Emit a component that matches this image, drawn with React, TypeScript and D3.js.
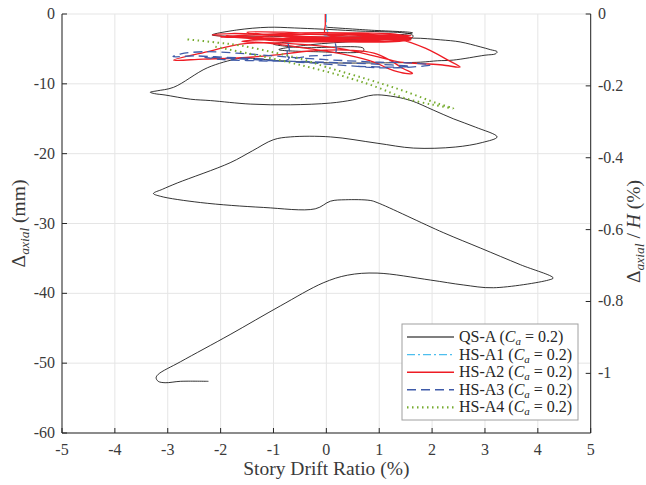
import React from "react";
import * as d3 from "d3";

// [drift %, axial mm]
const qsA: [number, number][] = [
  [0, -1.9], [0.8, -2.3], [1.63, -2.7], [1.2, -3.1], [0.3, -3.3], [-1.0, -3.2], [-2.16, -3.0], [-1.7, -2.3],
  [-1.1, -1.9], [-0.6, -2.0], [0.5, -2.4], [1.63, -3.0], [1.63, -3.35], [0.7, -3.6], [-0.3, -3.8], [-1.0, -4.3],
  [-0.5, -4.8], [0.7, -4.9], [0.7, -5.3], [-0.2, -5.4], [-0.9, -5.1], [-0.3, -4.4], [0.6, -3.9], [1.63, -3.45],
  [2.16, -3.7], [2.53, -4.0], [2.91, -4.7], [3.1, -5.1], [3.23, -5.4], [3.2, -5.7], [3.0, -5.9], [2.4, -6.6],
  [2.1, -6.7], [1.78, -6.9], [1.02, -7.0], [0.08, -7.0], [-0.87, -6.7], [-1.53, -6.3], [-1.68, -6.4], [-2.25, -7.7],
  [-2.89, -10.5], [-3.2, -11.0], [-3.33, -11.2],
  [-3.25, -11.4], [-3.05, -11.6], [-2.57, -12.2], [-2.19, -12.4], [-1.44, -12.9], [-0.68, -13.0], [0.08, -12.75],
  [0.5, -12.3], [0.89, -11.6], [1.21, -11.75], [1.6, -12.4], [2.02, -13.75], [2.4, -15.0], [2.82, -16.2], [3.23, -17.6],
  [2.95, -18.4], [2.44, -19.05], [1.65, -19.2], [0.96, -18.5], [0.08, -17.6], [-0.68, -17.6], [-1.0, -18.0],
  [-1.4, -19.6], [-1.82, -21.3], [-2.82, -24.2], [-3.1, -25.1], [-3.27, -25.7],
  [-3.14, -26.1], [-2.38, -27.0], [-1.19, -27.7], [-0.21, -27.9], [0.08, -26.8], [0.36, -26.6], [0.83, -26.7],
  [0.96, -27.0], [2.21, -31.3], [2.91, -33.5], [3.67, -35.9], [4.29, -37.8],
  [4.2, -38.1], [3.16, -39.2], [2.59, -38.8], [1.97, -38.1], [0.96, -37.1], [0.4, -37.4], [-0.06, -38.5],
  [-0.87, -41.8], [-1.82, -45.9], [-2.76, -49.8], [-3.18, -51.6], [-3.22, -52.1], [-3.18, -52.6], [-3.05, -52.8],
  [-2.76, -52.6], [-2.23, -52.6],
];

const hsA1: [number, number][] = [
  [0, 0], [0, -1.5], [0.02, -2.8], [-0.08, -3.0], [0.13, -3.1], [-0.06, -3.2], [0.12, -3.0], [0, -3.05],
];

const hsA2: [number, number][] = [
  [-0.02, 0], [-0.02, -1.5], [-0.02, -2.9],
  [0.5, -3.0], [1.2, -3.0], [1.6, -3.1], [1.1, -3.4], [0.3, -3.5], [-0.6, -3.3], [-1.3, -2.9], [-1.8, -2.8],
  [-2.16, -3.0], [-1.6, -3.4], [-0.7, -3.7], [0.2, -3.8], [1.0, -3.6], [1.55, -3.5], [1.0, -3.2], [0, -2.9],
  [-0.8, -2.6], [-1.5, -2.6], [-1.0, -3.0], [0, -3.3], [0.9, -3.3], [1.6, -3.7], [1.2, -4.0], [0.4, -4.0],
  [-0.5, -3.9], [-1.2, -3.6], [-1.6, -3.2], [-0.8, -2.9], [0.3, -3.0], [1.2, -3.2], [1.63, -3.4],
  [1.0, -3.0], [0.2, -2.8], [-0.7, -3.0], [-1.4, -3.3], [-2.0, -3.3], [-1.4, -3.0], [-0.5, -2.7], [0.4, -2.7],
  [1.3, -2.9], [1.5, -3.3], [0.8, -3.8], [-0.2, -4.0], [-1.0, -3.8], [-1.9, -3.1], [-1.2, -3.4], [-0.3, -3.6],
  [0.6, -3.7], [1.4, -3.7],
  [1.9, -5.0], [2.3, -6.6], [2.53, -7.6], [2.2, -7.3], [1.8, -7.1], [1.4, -6.9], [0.9, -6.0], [0.3, -5.0],
  [-0.4, -4.4], [-1.1, -4.1], [-1.63, -4.3], [-2.2, -5.3], [-2.89, -6.6], [-2.33, -6.45], [-1.68, -6.3],
  [-1.0, -5.9], [-0.3, -5.3], [0.5, -5.2], [0.9, -5.6], [1.2, -6.6], [1.45, -7.8], [1.63, -8.5], [1.45, -8.45],
  [1.2, -7.9], [0.9, -6.9], [0.4, -5.9], [-0.3, -5.0], [-1.06, -4.2], [-1.6, -3.9], [-1.06, -3.6], [-0.4, -3.4],
  [0.5, -3.3], [1.2, -3.4], [1.6, -3.6], [1.0, -3.9], [0.2, -3.7],
];

const hsA3: [number, number][] = [
  [0.17, -4.2], [0.17, -5.6], [-0.3, -6.0], [-0.72, -6.2], [-0.72, -4.3], [-0.72, -6.5], [-1.3, -6.4], [-1.9, -6.2],
  [-2.5, -6.0], [-2.9, -6.1], [-2.75, -5.7], [-2.3, -5.4], [-1.7, -5.6], [-1.0, -6.0], [-0.3, -6.4], [0.4, -6.7],
  [1.0, -6.9], [1.6, -7.0], [1.97, -7.3], [1.6, -7.6], [1.0, -7.7], [0.4, -7.4], [-0.3, -7.0], [-1.0, -6.7],
  [-1.7, -6.4], [-2.3, -6.2], [-2.0, -6.5], [-1.3, -6.7], [-0.5, -6.8], [0.3, -7.0], [1.0, -7.2], [1.59, -7.5],
  [1.2, -7.6], [0.6, -7.5],
];

const hsA4: [number, number][] = [
  [-2.1, -4.7], [-1.44, -5.7], [-0.49, -7.3], [0.45, -9.2], [1.0, -10.6], [1.46, -12.0], [2.02, -13.0], [2.4, -13.5],
  [2.1, -12.8], [1.46, -11.0], [0.8, -9.4], [0, -7.6], [-0.49, -6.4], [-1.0, -5.5], [-1.63, -4.5], [-2.06, -4.1],
  [-2.67, -3.6],
];

const xTicks = [-5, -4, -3, -2, -1, 0, 1, 2, 3, 4, 5];
const yTicks = [0, -10, -20, -30, -40, -50, -60];
const yRightTicks = [0, -0.2, -0.4, -0.6, -0.8, -1];
const heightMM = 5146;

const series = [
  { name: "QS-A", data: qsA, color: "#000000", width: 0.8, dash: "" },
  { name: "HS-A1", data: hsA1, color: "#4DBEEE", width: 1.2, dash: "8,3,2,3" },
  { name: "HS-A2", data: hsA2, color: "#EE1C24", width: 1.3, dash: "" },
  { name: "HS-A3", data: hsA3, color: "#3F5BA9", width: 1.3, dash: "9,5" },
  { name: "HS-A4", data: hsA4, color: "#77AC30", width: 2, dash: "1.5,3.5" },
];

const font = "'Liberation Serif', 'DejaVu Serif', serif";

export default function App() {
  const left = 62, right = 590.7, top = 14, bottom = 433;
  const x = d3.scaleLinear().domain([-5, 5]).range([left, right]);
  const y = d3.scaleLinear().domain([-60, 0]).range([bottom, top]);
  const yR = d3.scaleLinear().domain([(-60 / heightMM) * 100, 0]).range([bottom, top]);
  const line = d3
    .line<[number, number]>()
    .x((d) => x(d[0]))
    .y((d) => y(d[1]))
    .curve(d3.curveCatmullRom.alpha(0.5));

  const axisColor = "#262626";
  const labelColor = "#3a3a3a";

  return (
    <svg width={646} height={485} style={{ position: "absolute", left: 0, top: 0, background: "#fff" }} fontFamily={font}>
      {/* grid */}
      {xTicks.map((t) => (
        <line key={"gx" + t} x1={x(t)} x2={x(t)} y1={top} y2={bottom} stroke="#e5e5e5" strokeWidth={1} />
      ))}
      {yTicks.map((t) => (
        <line key={"gy" + t} x1={left} x2={right} y1={y(t)} y2={y(t)} stroke="#e5e5e5" strokeWidth={1} />
      ))}

      {/* data */}
      <g fill="none" strokeLinejoin="round">
        {series.map((s) => (
          <path key={s.name} d={line(s.data) || ""} stroke={s.color} strokeWidth={s.width} strokeDasharray={s.dash} />
        ))}
      </g>

      {/* axes */}
      <line x1={left} x2={left} y1={top} y2={bottom} stroke={axisColor} />
      <line x1={right} x2={right} y1={top} y2={bottom} stroke={axisColor} />
      <line x1={left} x2={right} y1={bottom} y2={bottom} stroke={axisColor} />
      {xTicks.map((t) => (
        <g key={"xt" + t}>
          <line x1={x(t)} x2={x(t)} y1={bottom} y2={bottom - 5} stroke={axisColor} />
          <text x={x(t)} y={455} textAnchor="middle" fontSize={16} fill={labelColor}>
            {t}
          </text>
        </g>
      ))}
      {yTicks.map((t) => (
        <g key={"yt" + t}>
          <line x1={left} x2={left + 5} y1={y(t)} y2={y(t)} stroke={axisColor} />
          <text x={55} y={y(t) + 5} textAnchor="end" fontSize={16} fill={labelColor}>
            {t}
          </text>
        </g>
      ))}
      {yRightTicks.map((t) => (
        <g key={"yr" + t}>
          <line x1={right - 5} x2={right} y1={yR(t)} y2={yR(t)} stroke={axisColor} />
          <text x={598} y={yR(t) + 5} fontSize={16} fill={labelColor}>
            {t}
          </text>
        </g>
      ))}

      {/* axis labels */}
      <text x={x(0)} y={475} textAnchor="middle" fontSize={19.5} fill={labelColor}>
        Story Drift Ratio (%)
      </text>
      <text transform={`translate(25,${(top + bottom) / 2}) rotate(-90)`} textAnchor="middle" fontSize={19.5} fill={labelColor}>
        Δ<tspan fontStyle="italic" fontSize={13.5} dy={4}>axial</tspan>
        <tspan dy={-4}> (mm)</tspan>
      </text>
      <text transform={`translate(640,${(top + bottom) / 2 + 8}) rotate(-90)`} textAnchor="middle" fontSize={19.5} fill={labelColor}>
        Δ<tspan fontStyle="italic" fontSize={13.5} dy={4}>axial</tspan>
        <tspan dy={-4}> / </tspan>
        <tspan fontStyle="italic">H</tspan>
        <tspan> (%)</tspan>
      </text>

      {/* legend */}
      <g>
        <rect x={402} y={324} width={176} height={96} fill="#fff" stroke="#a0a0a0" strokeWidth={1} />
        {series.map((s, i) => {
          const ly = 337 + i * 17.6;
          return (
            <g key={"lg" + s.name}>
              <line x1={407} x2={454} y1={ly} y2={ly} stroke={s.color} strokeWidth={s.width + (i === 0 ? 0.3 : 0.2)} strokeDasharray={s.dash} />
              <text x={459} y={ly + 5} fontSize={16} fill="#262626">
                {s.name} (<tspan fontStyle="italic">C</tspan>
                <tspan fontStyle="italic" fontSize={11} dy={3}>a</tspan>
                <tspan dy={-3}> = 0.2)</tspan>
              </text>
            </g>
          );
        })}
      </g>
    </svg>
  );
}
